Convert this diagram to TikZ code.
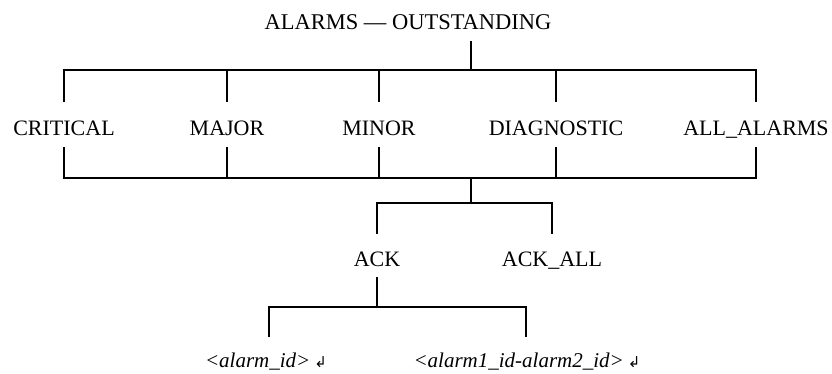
\documentclass[tikz,border=0pt]{standalone}
\usepackage{fontspec}
\setmainfont{Liberation Serif}
\newfontfamily\arrowfont{DejaVu Sans}
\newcommand{\retarrow}{\hspace{4pt}{\upshape\arrowfont\fontsize{15}{17}\selectfont ↲}}
\begin{document}
\begin{tikzpicture}[x=1pt,y=-1pt,line width=2.7pt,line join=miter,
  lbl/.style={font=\fontsize{22}{26}\selectfont,anchor=base,inner sep=0pt},
  ilbl/.style={font=\fontsize{21}{25}\selectfont\itshape,anchor=base,inner sep=0pt}]
\useasboundingbox (0,0) rectangle (832,373);
% texts
\node[lbl,font=\fontsize{22.5}{26}\selectfont] (title) at (408,29.5) {ALARMS — OUTSTANDING};
\node[lbl] (crit) at (64,135) {CRITICAL};
\node[lbl] (major) at (227,135) {MAJOR};
\node[lbl] (minor) at (379,135) {MINOR};
\node[lbl] (diag) at (556,135) {DIAGNOSTIC};
\node[lbl] (all) at (756,135) {ALL\_ALARMS};
\node[lbl] (ack) at (377,266) {ACK};
\node[lbl] (ackall) at (552,266) {ACK\_ALL};
\node[ilbl] (aid) at (266,367) {<alarm\_id>\retarrow};
\node[ilbl] (arange) at (527,367) {<alarm1\_id-alarm2\_id>\retarrow};
% junction coordinates
\coordinate (t0) at (471,41);
\coordinate (t1) at (471,70);
\coordinate (u1) at (471,178);
\coordinate (u2) at (471,203);
\coordinate (a0) at (377,277);
\coordinate (a1) at (377,307);
% top bar
\draw (64,102) -- (64,70) -- (756,70) -- (756,102);
\draw (t0) -- (t1);
\foreach \x in {227,379,556} \draw (\x,70) -- (\x,102);
% lower bar
\draw (64,147) -- (64,178) -- (756,178) -- (756,147);
\foreach \x in {227,379,556} \draw (\x,147) -- (\x,178);
\draw (u1) -- (u2);
% ack bar
\draw (377,234) -- (377,203) -- (552,203) -- (552,234);
% bottom bar
\draw (a0) -- (a1);
\draw (269,337) -- (269,307) -- (526,307) -- (526,337);
\end{tikzpicture}
\end{document}
